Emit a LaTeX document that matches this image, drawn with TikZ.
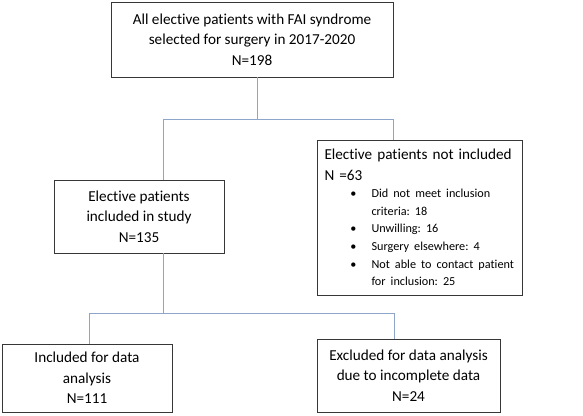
\documentclass[tikz,border=0pt]{standalone}
\usepackage{fontspec}
\setmainfont[Ligatures=NoCommon]{Carlito}
\usepackage{enumitem}
\usepackage{tikz}
\usetikzlibrary{positioning,calc}
\definecolor{linkblue}{RGB}{140,165,200}
\definecolor{boxgray}{RGB}{55,55,55}
\frenchspacing

\begin{document}
\begin{tikzpicture}[
      x=1pt, y=-1pt,
      box/.style={draw=boxgray, line width=0.7pt, align=center,
                  font=\fontsize{15.2}{20.5}\selectfont, inner sep=0pt},
      link/.style={draw=linkblue, line width=0.9pt}
    ]
    \useasboundingbox (0,0) rectangle (583,415);

    \node[box, minimum width=282pt, minimum height=75pt] (allpat) at (252,39.5) {%
      All elective patients with FAI syndrome\\
      selected for surgery in 2017-2020\\
      N=198};
    \node[box, minimum width=170pt, minimum height=73pt] (incl) at (139,216.5) {%
      Elective patients\\
      included in study\\
      N=135};
    \node[box, minimum width=205pt, minimum height=155pt, inner xsep=7.5pt,
          text width=190pt, align=left] (notincl) at (419.5,217.5) {%
      \raggedright\hyphenpenalty=10000
      Elective patients not included\\
      N =63\par
      {\fontsize{12.2}{17.6}\selectfont
      \begin{itemize}[label=\textbullet, leftmargin=47pt, labelsep=15pt,
                      itemsep=0pt, parsep=0pt, topsep=0pt, partopsep=0pt]
        \raggedright
        \item Did not meet inclusion\\criteria: 18
        \item Unwilling: 16
        \item Surgery elsewhere: 4
        \item Not able to contact patient\\for inclusion: 25
      \end{itemize}}};
    \node[box, minimum width=170pt, minimum height=68pt] (analysed) at (87,378) {%
      Included for data\\
      analysis\\
      N=111};
    \node[box, minimum width=183pt, minimum height=73pt] (excl) at (408.5,375.5) {%
      Excluded for data analysis\\
      due to incomplete data\\
      N=24};

    % split points
    \coordinate (split1) at (257,119);
    \coordinate (split2) at (163,313);

    \draw[link] ([xshift=5pt]allpat.south) -- (split1);
    \draw[link] (split1) -| ([xshift=24pt]incl.north);
    \draw[link] (split1) -| ([xshift=-26pt]notincl.north);
    \draw[link] ([xshift=24pt]incl.south) -- (split2);
    \draw[link] (split2) -| ([xshift=2pt]analysed.north);
    \draw[link] (split2) -| ([xshift=-14.5pt]excl.north);
  \end{tikzpicture}
\end{document}
